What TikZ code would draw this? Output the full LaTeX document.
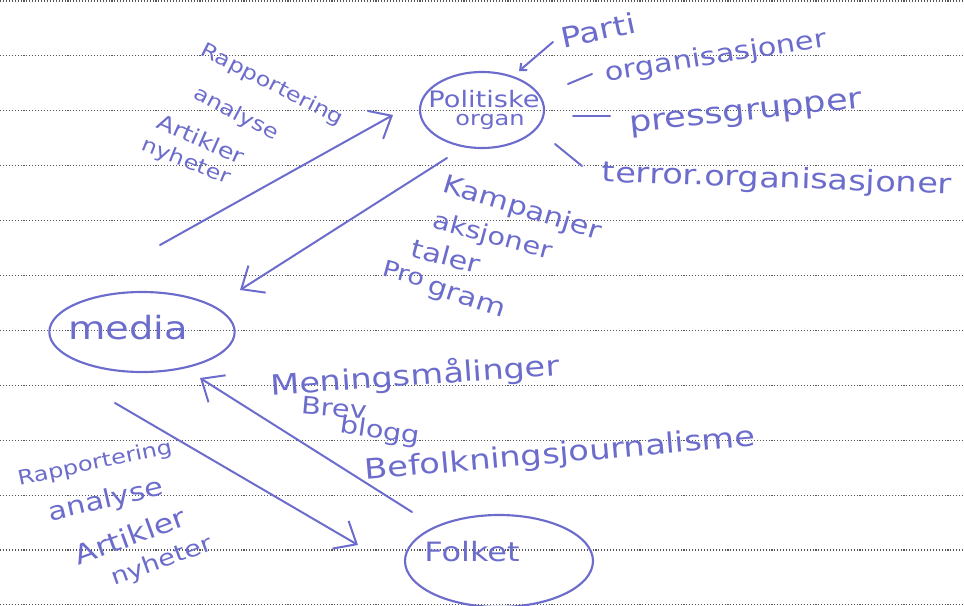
\documentclass[tikz,border=0pt]{standalone}
\usepackage{fontspec}
\usepackage{xcolor}
\usepackage{tikz}
\usetikzlibrary{arrows.meta,shapes.geometric}
\newfontfamily\handfont[FakeStretch=1.2]{DejaVu Sans}
\definecolor{ink}{RGB}{108,108,204}
\definecolor{ruling}{RGB}{85,85,85}

\begin{document}
\begin{tikzpicture}[x=0.75pt,y=0.75pt,yscale=-1,xscale=1,
  pen/.style={draw=ink,line width=1.5pt,line cap=round},
  bubble/.style={ellipse,draw=ink,line width=1.6pt,inner sep=0pt},
  word/.style={text=ink,inner sep=0pt,font=\handfont\fontsize{#1}{#1}\selectfont},
  bigtip/.style={-{Straight Barb[length=14pt,width=24pt]}},
  dots/.style={draw=ruling,line width=0.8pt,dash pattern=on 0.8pt off 1.4pt}]

\useasboundingbox (0,0) rectangle (964,606);

\foreach \k in {0,...,11}
  \draw[dots] (0,\k*54.9+1) -- (964,\k*54.9+1);

\node[bubble,minimum width=93pt,minimum height=57pt] (pol) at (482,110) {};
\node[bubble,minimum width=139pt,minimum height=60pt] (media) at (142,332) {};
\node[bubble,minimum width=141pt,minimum height=69pt] (folket) at (499,561) {};

\node[word=17] (politiske) at (484,99) {Politiske};
\node[word=15] (organ) at (490,122) {organ};
\node[word=24] (medialbl) at (128,328) {media};
\node[word=20] (folketlbl) at (472,552) {Folket};

\node[word=21,rotate=12] (parti) at (598,30) {Parti};
\node[word=19,rotate=9] (orgs) at (716,57) {organisasjoner};
\node[word=22,rotate=6] (press) at (746,115) {pressgrupper};
\node[word=21,rotate=-2] (terror) at (777,180) {terror.organisasjoner};

\node[word=15,rotate=-27] (rapp1) at (272,85) {Rapportering};
\node[word=15,rotate=-28] (anal1) at (236,114) {analyse};
\node[word=16,rotate=-24] (art1) at (201,139) {Artikler};
\node[word=15,rotate=-22] (nyh1) at (186,162) {nyheter};

\node[word=19,rotate=-17] (kamp) at (522,209) {Kampanjer};
\node[word=18,rotate=-15] (aksj) at (492,237) {aksjoner};
\node[word=19,rotate=-15] (taler) at (446,256) {taler};
\node[word=17,rotate=-15] (pro) at (404,273) {Pro};
\node[word=19,rotate=-18] (gram) at (466,301) {gram};

\node[word=21,rotate=4] (mening) at (415,376) {Meningsmålinger};
\node[word=18,rotate=-5] (brev) at (334,408) {Brev};
\node[word=18,rotate=-8] (blogg) at (380,432) {blogg};
\node[word=21,rotate=5] (befolk) at (560,455) {Befolkningsjournalisme};

\node[word=15,rotate=12] (rapp2) at (95,464) {Rapportering};
\node[word=19,rotate=13] (anal2) at (106,501) {analyse};
\node[word=20,rotate=20] (art2) at (130,536) {Artikler};
\node[word=17,rotate=20] (nyh2) at (162,562) {nyheter};

\coordinate (up-from) at (160,245);
\coordinate (up-to) at (393,115);
\coordinate (down-from) at (447,158);
\coordinate (down-to) at (240,290);
\coordinate (out-from) at (115,403);
\coordinate (out-to) at (358,545);
\coordinate (back-from) at (412,512);
\coordinate (back-to) at (200,378);

\draw[pen,bigtip] (up-from) -- (up-to);
\draw[pen,bigtip] (down-from) -- (down-to);
\draw[pen,bigtip] (out-from) -- (out-to);
\draw[pen,bigtip] (back-from) -- (back-to);

\coordinate (parti-from) at (553,42);
\coordinate (parti-to) at (519,71);
\coordinate (orgs-from) at (568,84);
\coordinate (orgs-to) at (592,74);
\coordinate (press-from) at (573,116);
\coordinate (press-to) at (610,116);
\coordinate (terror-from) at (555,144);
\coordinate (terror-to) at (582,166);

\draw[pen,-{Straight Barb[length=4pt,width=7pt]}] (parti-from) -- (parti-to);
\draw[pen] (orgs-from) -- (orgs-to);
\draw[pen] (press-from) -- (press-to);
\draw[pen] (terror-from) -- (terror-to);

\end{tikzpicture}
\end{document}
